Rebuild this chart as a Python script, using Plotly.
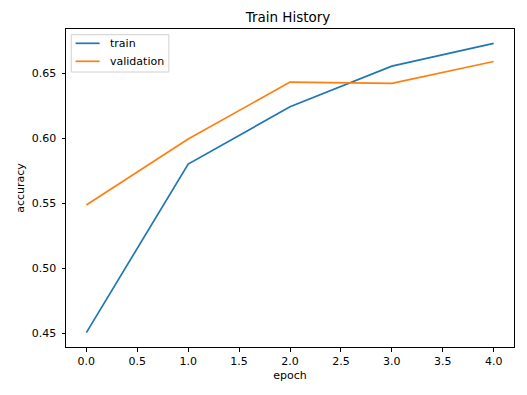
import plotly.graph_objects as go

epochs = [0, 1, 2, 3, 4]
train_acc = [0.4505, 0.5802, 0.6243, 0.6556, 0.6731]
val_acc = [0.5487, 0.5995, 0.6433, 0.6423, 0.6592]
series_names = ["train", "validation"]
series_colors = ["#1f77b4", "#ff7f0e"]
y_ticks = [0.45, 0.50, 0.55, 0.60, 0.65]
x_ticks = [0.0, 0.5, 1.0, 1.5, 2.0, 2.5, 3.0, 3.5, 4.0]

W, H = 519, 387          # page body has an 8px margin: figure placed at (8, 8)
ML, MR, MT, MB = 54, 12, 21, 48
PW, PH = W - ML - MR, H - MT - MB
OFF = 8


def px(xp):   # page x pixel -> paper x
    return (xp - OFF - ML) / PW


def py(yp):   # page y pixel -> paper y
    return 1 - (yp - OFF - MT) / PH


fig = go.Figure()
for name, color, vals in zip(series_names, series_colors, [train_acc, val_acc]):
    fig.add_trace(go.Scatter(x=epochs, y=vals, mode="lines", name=name,
                             line=dict(color=color, width=1.7), showlegend=False))

# legend (matplotlib style) built from the series names/colours
shapes = [dict(type="rect", xref="paper", yref="paper", x0=px(67.3), x1=px(166),
               y0=py(72), y1=py(34.7), line=dict(color="#d0d0d0", width=1),
               fillcolor="rgba(255,255,255,0.8)", layer="above")]
annotations = []
row_y = [43.3, 61.3]
for name, color, ry in zip(series_names, series_colors, row_y):
    shapes.append(dict(type="line", xref="paper", yref="paper", x0=px(71.7), x1=px(96),
                       y0=py(ry), y1=py(ry), line=dict(color=color, width=1.7), layer="above"))
    annotations.append(dict(text=name, xref="paper", yref="paper", x=px(104), y=py(ry),
                            xanchor="left", yanchor="middle", showarrow=False,
                            font=dict(size=11, color="black")))

axis_common = dict(showgrid=False, zeroline=False, showline=True, linecolor="black",
                   linewidth=1, mirror=True, ticks="outside", ticklen=3.5, tickwidth=0.8,
                   tickcolor="black", tickfont=dict(size=11, color="black"))
fig.update_layout(
    width=W, height=H,
    margin=dict(l=ML, r=MR, t=MT, b=MB),
    paper_bgcolor="white", plot_bgcolor="white",
    font=dict(family="DejaVu Sans", color="black"),
    title=dict(text="Train History", x=0.5395, xanchor="center", y=0.9755, yanchor="middle",
               font=dict(size=13.5)),
    xaxis=dict(range=[-0.2, 4.2], tickvals=x_ticks, ticktext=[f"{v:.1f}" for v in x_ticks],
               title=dict(text="epoch", font=dict(size=11), standoff=4), **axis_common),
    yaxis=dict(range=[0.4394, 0.6842], tickvals=y_ticks, ticktext=[f"{v:.2f}" for v in y_ticks],
               ticklabelstandoff=3,
               title=dict(text="accuracy", font=dict(size=11), standoff=4), **axis_common),
    shapes=shapes,
    annotations=annotations,
    showlegend=False,
)
fig.write_html("out.html")
